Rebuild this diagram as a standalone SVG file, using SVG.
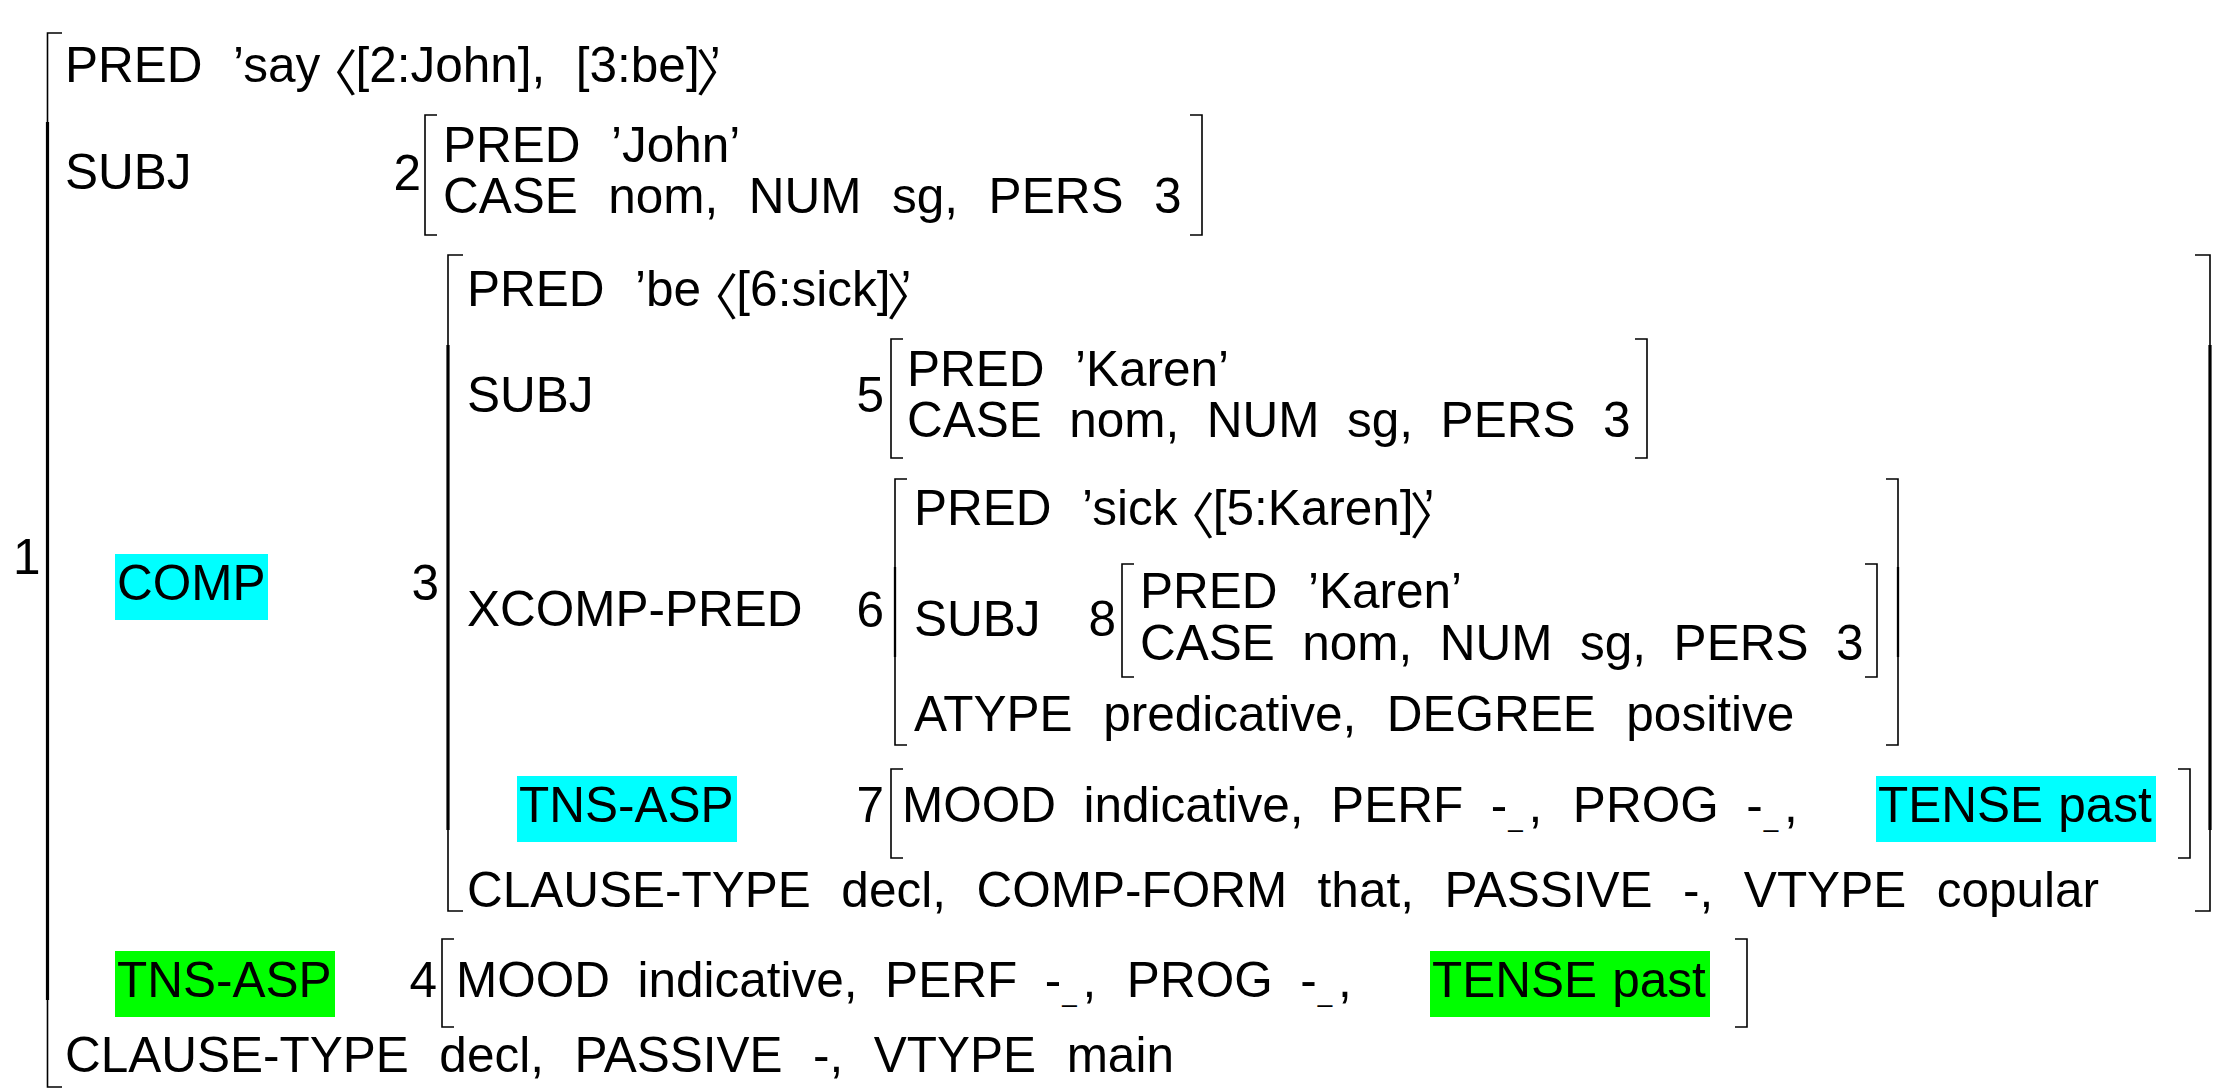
<svg xmlns="http://www.w3.org/2000/svg" width="2221" height="1088" viewBox="0 0 2221 1088" xml:space="preserve">
<style>
text{font-family:"Liberation Sans",Arial,Helvetica,sans-serif;font-size:49.5px;word-spacing:1.5px;fill:#000;white-space:pre}
.ang{font-family:"Noto Sans CJK JP","DejaVu Sans",sans-serif;font-size:50px}
.sub{font-size:26px}
.tight{word-spacing:0}
.br{fill:none;stroke:#000;stroke-width:1.6}
.bx{fill:none;stroke:#000;stroke-width:3.2}
.bm{fill:none;stroke:#000;stroke-width:2.3}
.cy{fill:#00ffff}
.gr{fill:#00ff00}
</style>
<rect width="2221" height="1088" fill="#fff"/>

<!-- f-structure 1: the main clause -->
<g id="f1">
<path class="br" d="M62,33 H47.5 V1087 H62"/>
<path class="bx" d="M47.5,122 V1000"/>
<text x="13" y="574">1</text>
<text x="65" y="82">PRED  ’say <tspan class="ang" dx="-28" dy="9">〈</tspan><tspan dx="-2" dy="-9">[2:John],  [3:be]</tspan><tspan class="ang" dx="-4" dy="9">〉</tspan><tspan dx="-11" dy="-9">’</tspan></text>
<text x="65" y="189">SUBJ</text>
<rect class="cy" x="115" y="554" width="153" height="66"/>
<text x="117" y="600">COMP</text>
<rect class="gr" x="115" y="951" width="220" height="66"/>
<text x="117" y="997">TNS-ASP</text>
<text x="65" y="1072">CLAUSE-TYPE  decl,  PASSIVE  -,  VTYPE  main</text>
</g>

<!-- f-structure 2: SUBJ John -->
<g id="f2">
<text x="421" y="190" text-anchor="end">2</text>
<path class="br" d="M437,115 H425 V235 H437"/>
<path class="br" d="M1190,115 H1202 V235 H1190"/>
<text x="443" y="162">PRED  ’John’</text>
<text x="443" y="213">CASE  nom,  NUM  sg,  PERS  3</text>
</g>

<!-- f-structure 3: COMP be -->
<g id="f3">
<text x="439" y="600" text-anchor="end">3</text>
<path class="br" d="M463,255 H448 V911 H463"/>
<path class="bx" d="M448,345 V830"/>
<path class="br" d="M2195,255 H2210 V911 H2195"/>
<path class="bx" d="M2210,345 V830"/>
<text x="467" y="306">PRED  ’be <tspan class="ang" dx="-28" dy="9">〈</tspan><tspan dx="-2" dy="-9">[6:sick]</tspan><tspan class="ang" dx="-4" dy="9">〉</tspan><tspan dx="-11" dy="-9">’</tspan></text>
<text x="467" y="412">SUBJ</text>
<text x="467" y="626">XCOMP-PRED</text>
<rect class="cy" x="517" y="776" width="220" height="66"/>
<text x="519" y="822">TNS-ASP</text>
<text x="467" y="907">CLAUSE-TYPE  decl,  COMP-FORM  that,  PASSIVE  -,  VTYPE  copular</text>
</g>

<!-- f-structure 5: SUBJ Karen -->
<g id="f5">
<text x="884" y="412" text-anchor="end">5</text>
<path class="br" d="M903,339 H891 V458 H903"/>
<path class="br" d="M1635,339 H1647 V458 H1635"/>
<text x="907" y="386">PRED  ’Karen’</text>
<text class="tight" x="907" y="437">CASE  nom,  NUM  sg,  PERS  3</text>
</g>

<!-- f-structure 6: XCOMP-PRED sick -->
<g id="f6">
<text x="884" y="627" text-anchor="end">6</text>
<path class="br" d="M907,479 H895 V745 H907"/>
<path class="bm" d="M895,567 V657"/>
<path class="br" d="M1886,479 H1898 V745 H1886"/>
<path class="bm" d="M1898,567 V657"/>
<text x="914" y="525">PRED  ’sick <tspan class="ang" dx="-28" dy="9">〈</tspan><tspan dx="-2" dy="-9">[5:Karen]</tspan><tspan class="ang" dx="-4" dy="9">〉</tspan><tspan dx="-11" dy="-9">’</tspan></text>
<text x="914" y="636">SUBJ</text>
<text x="914" y="731">ATYPE  predicative,  DEGREE  positive</text>
</g>

<!-- f-structure 8: controlled SUBJ Karen -->
<g id="f8">
<text x="1116" y="636" text-anchor="end">8</text>
<path class="br" d="M1134,564 H1122 V677 H1134"/>
<path class="br" d="M1865,564 H1877 V677 H1865"/>
<text x="1140" y="608">PRED  ’Karen’</text>
<text class="tight" x="1140" y="660">CASE  nom,  NUM  sg,  PERS  3</text>
</g>

<!-- f-structure 7: TNS-ASP of be -->
<g id="f7">
<text x="884" y="822" text-anchor="end">7</text>
<path class="br" d="M903,769 H891 V858 H903"/>
<path class="br" d="M2178,769 H2190 V858 H2178"/>
<text class="tight" x="902" y="822">MOOD  indicative,  PERF  -<tspan class="sub" dx="1" dy="5">_</tspan><tspan dx="6" dy="-5">,</tspan><tspan dx="3">  PROG  -</tspan><tspan class="sub" dx="1" dy="5">_</tspan><tspan dx="6" dy="-5">,</tspan></text>
<rect class="cy" x="1876" y="776" width="280" height="66"/>
<text x="1878" y="822">TENSE past</text>
</g>

<!-- f-structure 4: TNS-ASP of say -->
<g id="f4">
<text x="437" y="997" text-anchor="end">4</text>
<path class="br" d="M454,939 H442 V1027 H454"/>
<path class="br" d="M1735,939 H1747 V1027 H1735"/>
<text class="tight" x="456" y="997">MOOD  indicative,  PERF  -<tspan class="sub" dx="1" dy="5">_</tspan><tspan dx="6" dy="-5">,</tspan><tspan dx="3">  PROG  -</tspan><tspan class="sub" dx="1" dy="5">_</tspan><tspan dx="6" dy="-5">,</tspan></text>
<rect class="gr" x="1430" y="951" width="280" height="66"/>
<text x="1432" y="997">TENSE past</text>
</g>

<!-- no connectors in this matrix -->
<g id="connectors"/>
</svg>
